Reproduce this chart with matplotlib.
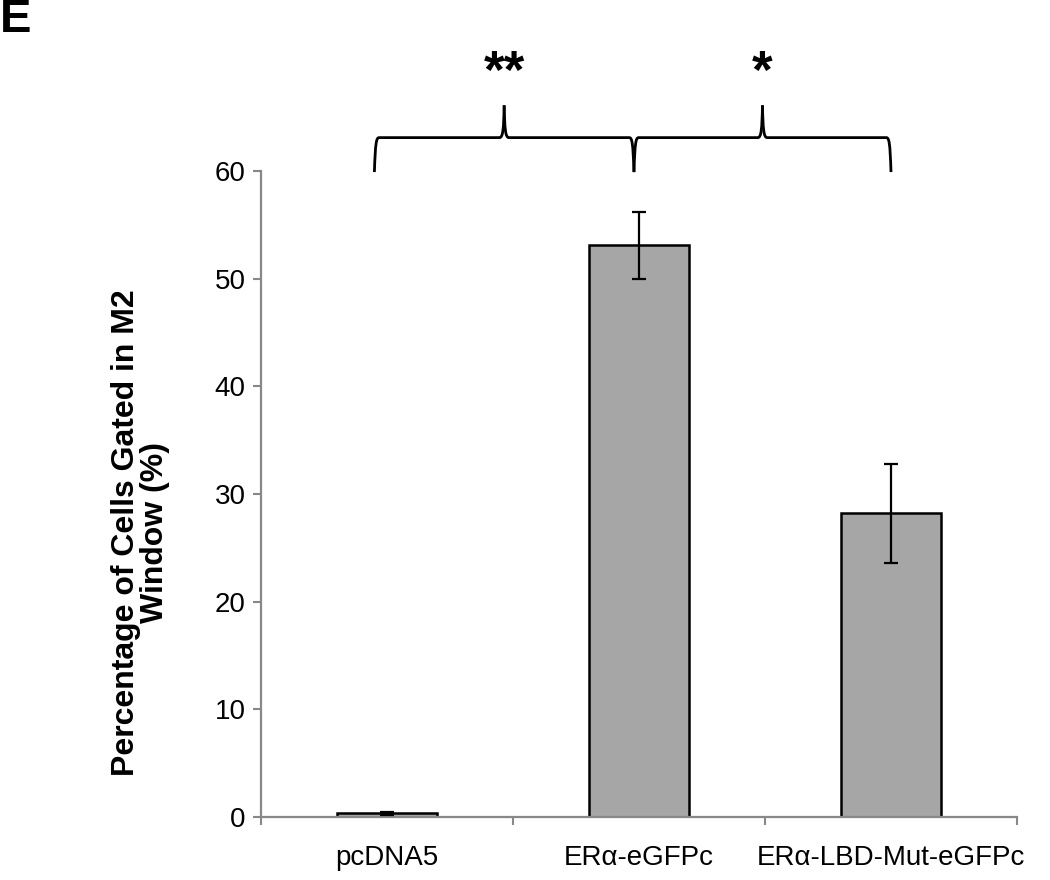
import matplotlib
matplotlib.use("Agg")
import matplotlib.pyplot as plt
from matplotlib.path import Path
from matplotlib.patches import PathPatch

plt.rcParams['font.family'] = ['Liberation Sans', 'DejaVu Sans']

categories = ["pcDNA5", "ERα-eGFPc", "ERα-LBD-Mut-eGFPc"]
values = [0.35, 53.1, 28.2]
errors = [0.15, 3.1, 4.6]
yticks = [0, 10, 20, 30, 40, 50, 60]
ylabel = "Percentage of Cells Gated in M2\nWindow (%)"
sig_labels = ["**", "*"]
sig_spans = [(0, 1), (1, 2)]

fig = plt.figure(figsize=(10.5, 8.8), dpi=100)
ax = fig.add_axes([261/1050, 1-817/880, (1017-261)/1050, (817-171)/880])

x = list(range(len(categories)))
ax.bar(x, values, width=0.4, color='#a6a6a6', edgecolor='black', linewidth=1.8, zorder=2)
ax.errorbar(x, values, yerr=errors, fmt='none', ecolor='black', elinewidth=1.6,
            capsize=5, capthick=1.6, zorder=3)

ax.set_xlim(-0.5, 2.5)
ax.set_ylim(0, 60)
ax.set_yticks(yticks)
ax.set_xticks(x)
ax.set_xticklabels(categories)
ax.set_xticks([-0.5, 0.5, 1.5, 2.5], minor=True)
ax.tick_params(axis='x', which='major', length=0, labelsize=20, pad=20)
ax.tick_params(axis='x', which='minor', length=6, width=1.5, color='#888888', direction='out')
ax.tick_params(axis='y', length=6, width=1.5, color='#888888', direction='out', labelsize=20, pad=5)
for s in ['top', 'right']:
    ax.spines[s].set_visible(False)
for s in ['left', 'bottom']:
    ax.spines[s].set_color('#888888')
    ax.spines[s].set_linewidth(1.6)

ax.set_ylabel(ylabel, fontsize=23, fontweight='bold', linespacing=0.92)
ax.yaxis.set_label_coords(-0.121, 0.44)

fig.text(0.0, 1-20/880, "E", fontsize=34, fontweight='bold', ha='left', va='center')

# braces
def brace(x0, x1, yb, yh, yt):
    xm = (x0 + x1) / 2
    dx = 0.012 * (x1 - x0)
    v = [(x0, yb), (x0 + dx*0.3, yh - 0.5), (x0 + dx*0.6, yh), (x0 + dx*1.5, yh),
         (xm - dx*1.5, yh),
         (xm - dx*0.4, yh), (xm - dx*0.15, yh + 0.8), (xm, yt)]
    c = [Path.MOVETO, Path.CURVE4, Path.CURVE4, Path.CURVE4, Path.LINETO,
         Path.CURVE4, Path.CURVE4, Path.CURVE4]
    v2 = [(xm, yt), (xm + dx*0.15, yh + 0.8), (xm + dx*0.4, yh), (xm + dx*1.5, yh),
          (x1 - dx*1.5, yh), (x1 - dx*0.6, yh), (x1 - dx*0.3, yh - 0.5), (x1, yb)]
    c2 = [Path.MOVETO, Path.CURVE4, Path.CURVE4, Path.CURVE4, Path.LINETO,
          Path.CURVE4, Path.CURVE4, Path.CURVE4]
    for vv, cc in ((v, c), (v2, c2)):
        p = PathPatch(Path(vv, cc), fill=False, edgecolor='black', linewidth=2.0,
                      clip_on=False, capstyle='butt', joinstyle='round')
        ax.add_patch(p)
    return xm

for (a, b), lab in zip(sig_spans, sig_labels):
    x0 = a - 0.05 if a == 0 else a - 0.02
    x1 = b - 0.02 if b < 2 else b
    xm = brace(x0, x1, 59.9, 63.1, 66.1)
    ax.text(xm, 69.0, lab, ha='center', va='center', fontsize=38, fontweight='bold',
            clip_on=False)

fig.savefig("out.png", dpi=100, facecolor='white')
